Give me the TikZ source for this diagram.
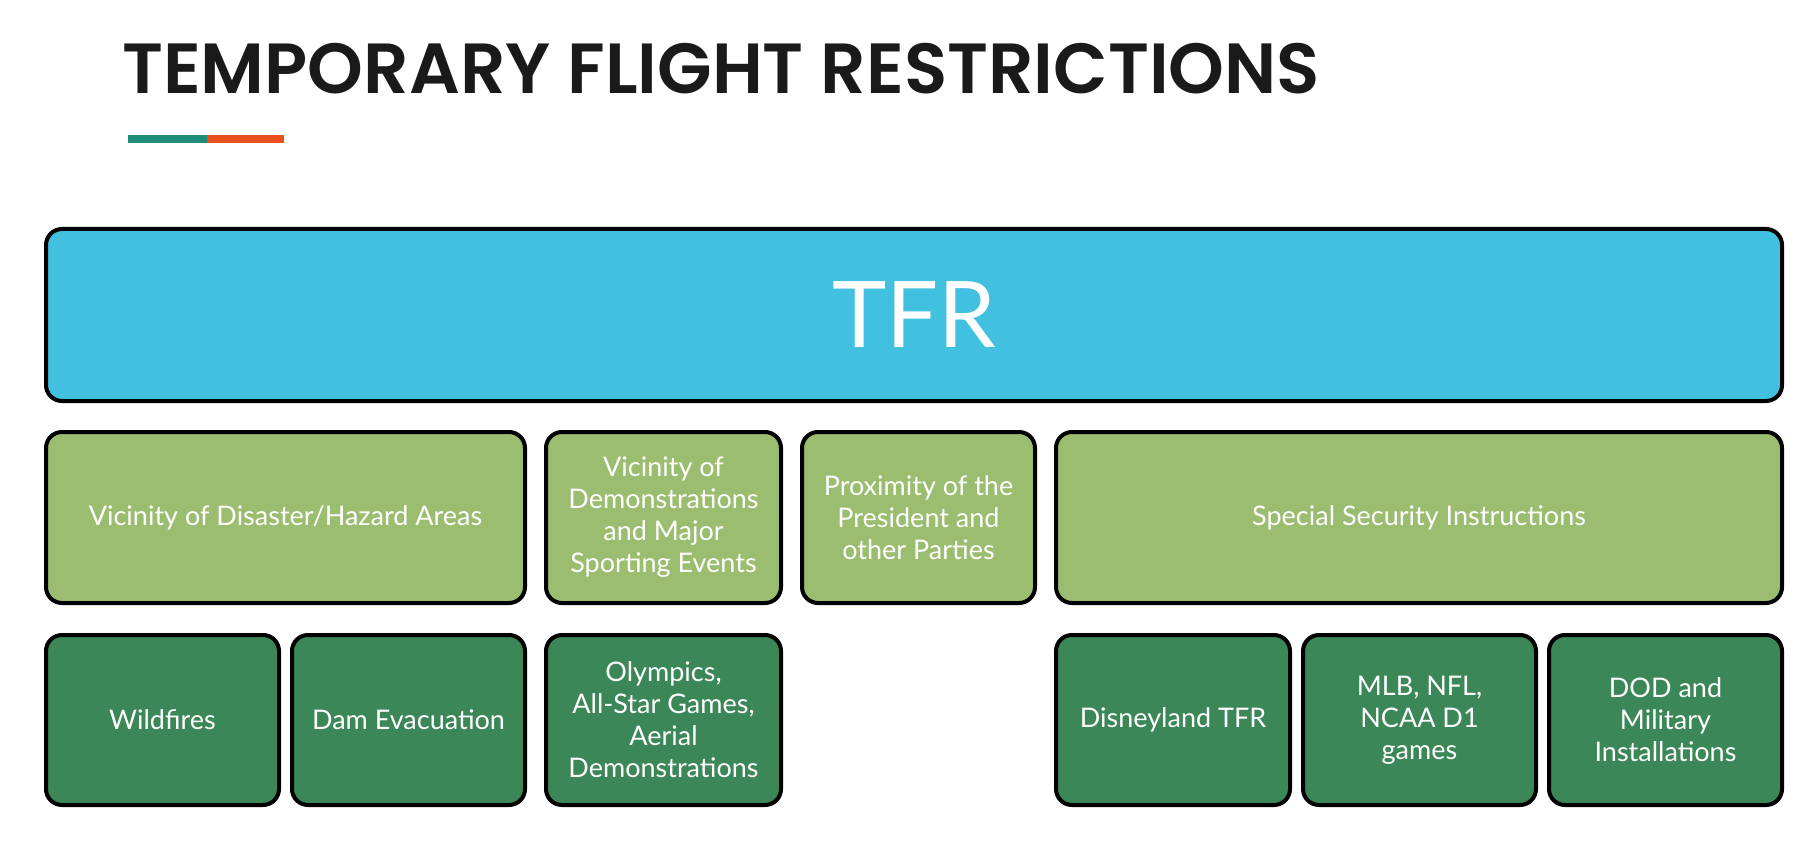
\documentclass[tikz,border=0pt]{standalone}
\usepackage{fontspec}
\setmainfont{Lato}
\newfontfamily\titlefont{Poppins}[BoldFont={* SemiBold}]
\definecolor{tfrblue}{HTML}{41C0E0}
\definecolor{catgreen}{HTML}{9BBD6F}
\definecolor{subgreen}{HTML}{3B8757}
\definecolor{barteal}{HTML}{1E8C7A}
\definecolor{barorange}{HTML}{E8501E}
\definecolor{titleink}{HTML}{1A1A1A}
\begin{document}
\begin{tikzpicture}[x=1pt,y=-1pt,
  box/.style={draw=black, line width=4pt, rounded corners=16pt, text=white,
    align=center, inner sep=4pt, font=\fontsize{27}{32}\selectfont},
  rootbox/.style={box, fill=tfrblue, font=\fontsize{92}{100}\selectfont},
  catbox/.style={box, fill=catgreen},
  subbox/.style={box, fill=subgreen},
  dims/.style 2 args={minimum width=#1pt-4pt, minimum height=#2pt-4pt}]
\useasboundingbox (0,0) rectangle (1797,850);

% heading and its two-colour rule
\node[anchor=base west, inner sep=0pt, text=titleink,
      font=\titlefont\bfseries\fontsize{71}{80}\selectfont]
  (title) at (122,94) {TEMPORARY FLIGHT RESTRICTIONS};
\fill[barteal] (128,135) rectangle (207,143);
\fill[barorange] (207,135) rectangle (284,143);

% top level
\node[rootbox, dims={1740}{176}] (tfr) at (914,315) {TFR};

% categories
\node[catbox, dims={483}{175}] (disaster) at (285.5,517.5) {Vicinity of Disaster/Hazard Areas};
\node[catbox, dims={239}{175}] (demo) at (663.5,517.5) {Vicinity of\\Demonstrations\\and Major\\Sporting Events};
\node[catbox, dims={237}{175}] (pres) at (918.5,517.5) {Proximity of the\\President and\\other Parties};
\node[catbox, dims={730}{175}] (ssi) at (1419,517.5) {Special Security Instructions};

% examples
\node[subbox, dims={237}{174}] (fire) at (162.5,720) {Wildfires};
\node[subbox, dims={237}{174}] (dam) at (408.5,720) {Dam Evacuation};
\node[subbox, dims={239}{174}] (olym) at (663.5,720) {Olympics,\\All-Star Games,\\Aerial\\Demonstrations};
\node[subbox, dims={238}{174}] (disney) at (1173,720) {Disneyland TFR};
\node[subbox, dims={237}{174}] (mlb) at (1419.5,720) {MLB, NFL,\\NCAA D1\\games};
\node[subbox, dims={237}{174}] (dod) at (1665.5,720) {DOD and\\Military\\Installations};
\end{tikzpicture}
\end{document}
